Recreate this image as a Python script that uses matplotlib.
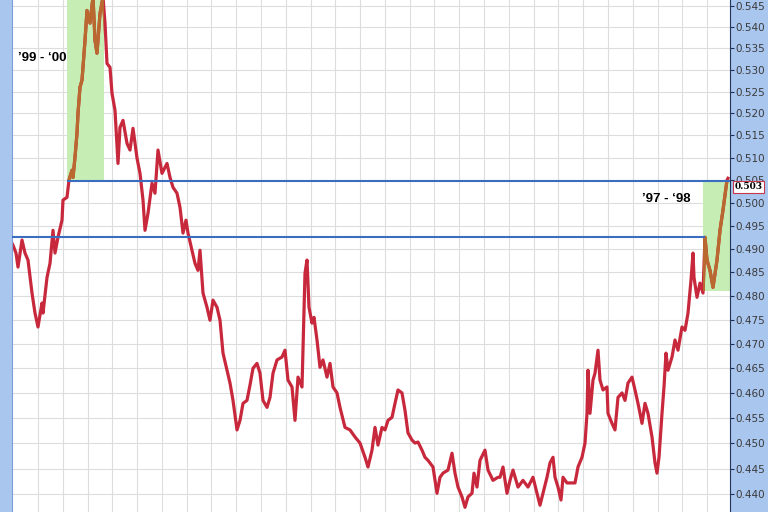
import numpy as np
import matplotlib
matplotlib.use("Agg")
from matplotlib import pyplot as plt
from matplotlib.patches import Rectangle
from matplotlib.transforms import blended_transform_factory

# session number (0 = left edge of chart)
days = [0, 1, 4, 6, 10, 13, 16, 20, 23, 26,
        30, 31, 35, 38, 41, 43, 46, 50, 51, 55,
        57, 60, 61, 63, 65, 66, 68, 70, 71, 73,
        75, 78, 81, 83, 85, 88, 91, 93, 95, 98,
        100, 103, 106, 108, 111, 115, 118, 121, 125, 128,
        131, 133, 136, 140, 143, 146, 150, 155, 158, 161,
        165, 168, 171, 174, 176, 180, 183, 186, 188, 191,
        195, 198, 201, 205, 208, 211, 215, 218, 221, 225,
        228, 231, 235, 238, 241, 245, 248, 251, 255, 258,
        261, 265, 270, 273, 276, 280, 283, 286, 290, 293,
        295, 297, 300, 302, 305, 308, 311, 315, 318, 321,
        325, 328, 333, 338, 343, 348, 353, 356, 360, 363,
        366, 370, 373, 376, 380, 383, 386, 390, 393, 396,
        400, 403, 406, 410, 413, 416, 421, 425, 428, 431,
        436, 440, 443, 446, 450, 453, 456, 460, 462, 465,
        468, 473, 476, 481, 486, 488, 491, 495, 498, 501,
        506, 511, 516, 521, 525, 528, 531, 535, 538, 541,
        543, 546, 549, 551, 555, 560, 563, 566, 570, 573,
        575, 576, 578, 581, 583, 586, 588, 591, 595, 596,
        600, 603, 606, 610, 613, 616, 620, 623, 626, 630,
        633, 636, 640, 643, 645, 647, 650, 652, 654, 656,
        660, 663, 666, 670, 673, 676, 679, 681, 682, 685,
        688, 691, 693, 695, 698, 701, 705, 708, 711, 715,
        716]

ratio = [0.4912, 0.4908, 0.4891, 0.4861, 0.4919, 0.4891, 0.4876, 0.4806, 0.4764, 0.4735,
         0.4785, 0.4764, 0.4839, 0.4869, 0.4940, 0.4891, 0.4925, 0.4962, 0.5006, 0.5012,
         0.5050, 0.5072, 0.5056, 0.5101, 0.5155, 0.5200, 0.5260, 0.5276, 0.5306, 0.5369,
         0.5440, 0.5410, 0.5472, 0.5369, 0.5339, 0.5433, 0.5472, 0.5410, 0.5315, 0.5306,
         0.5246, 0.5207, 0.5087, 0.5168, 0.5184, 0.5132, 0.5117, 0.5166, 0.5099, 0.5065,
         0.5006, 0.4940, 0.4977, 0.5043, 0.5021, 0.5117, 0.5065, 0.5087, 0.5056, 0.5034,
         0.5021, 0.4990,
         0.4934, 0.4962, 0.4934, 0.4897, 0.4869, 0.4854, 0.4897, 0.4806, 0.4776, 0.4749,
         0.4791, 0.4776, 0.4749, 0.4681, 0.4646, 0.4620, 0.4585, 0.4526, 0.4545, 0.4579,
         0.4585, 0.4616, 0.4650, 0.4660, 0.4640, 0.4585, 0.4571, 0.4591, 0.4640, 0.4667,
         0.4673, 0.4687, 0.4626, 0.4612, 0.4545, 0.4632, 0.4612, 0.4848, 0.4876, 0.4776,
         0.4743, 0.4755, 0.4708, 0.4652, 0.4667, 0.4632, 0.4660, 0.4612, 0.4600, 0.4571,
         0.4531, 0.4526, 0.4512, 0.4500, 0.4472, 0.4453, 0.4486, 0.4531, 0.4496, 0.4531,
         0.4526, 0.4545, 0.4551, 0.4579, 0.4606, 0.4600, 0.4565, 0.4520, 0.4506, 0.4500,
         0.4502, 0.4486, 0.4472, 0.4466, 0.4453, 0.4402, 0.4433, 0.4441, 0.4447, 0.4480,
         0.4441, 0.4414, 0.4395, 0.4375, 0.4395, 0.4402, 0.4441, 0.4414, 0.4466, 0.4486,
         0.4447, 0.4427, 0.4433, 0.4433, 0.4453, 0.4402, 0.4427, 0.4447, 0.4414, 0.4427,
         0.4414, 0.4433, 0.4402, 0.4379, 0.4402, 0.4433, 0.4461, 0.4472, 0.4433, 0.4414,
         0.4389, 0.4433, 0.4422, 0.4422, 0.4422, 0.4453, 0.4472, 0.4500, 0.4559, 0.4646,
         0.4559, 0.4626, 0.4640, 0.4687, 0.4626, 0.4606, 0.4612, 0.4559, 0.4539, 0.4526,
         0.4591, 0.4600, 0.4585, 0.4620, 0.4632, 0.4606, 0.4579, 0.4539, 0.4579, 0.4559,
         0.4512, 0.4461, 0.4441, 0.4472, 0.4559, 0.4612, 0.4681, 0.4646, 0.4673, 0.4708,
         0.4687, 0.4735, 0.4728, 0.4764, 0.4833, 0.4891, 0.4839, 0.4797, 0.4827, 0.4806,
         0.4925, 0.4876, 0.4854, 0.4818, 0.4876, 0.4940, 0.4984, 0.5050, 0.5054]

# highlighted periods: (start, end, low, high)
periods = [(55, 92, 0.5049, 0.56), (691, 718, 0.4810, 0.5049)]
period_labels = ["’99 - ‘00", "’97 - ‘98"]
period_label_pos = [(6, 0.5327), (630, 0.5008)]

# reference levels: (value, start, end)
levels = [(0.5049, 55, 718), (0.4925, 0, 693)]
last_value = 0.503

fig = plt.figure(figsize=(7.68, 5.12), dpi=100, facecolor="#a9c6ef")
ax = fig.add_axes([12/768, 0, 718/768, 1])
ax.set_facecolor("white")
ax.set_yscale("log")
ax.set_xlim(0, 718)
ax.set_ylim(0.4366, 0.5465)

yt = np.round(np.arange(0.440, 0.5451, 0.005), 3)
ax.yaxis.set_minor_locator(matplotlib.ticker.NullLocator())
ax.set_yticks(yt)
ax.set_yticklabels([f"{v:.3f}" for v in yt])
ax.yaxis.tick_right()
ax.tick_params(axis="y", direction="out", length=3, width=0.8, color="#22335a",
               labelsize=7.5, labelcolor="#3a3a3a", pad=1)
ax.set_xticks(np.arange(26, 718, 24.78))
ax.tick_params(axis="x", length=0, labelbottom=False)
ax.grid(True, color="#dddddd", linewidth=0.8)
ax.set_axisbelow(True)

for s in ["top", "bottom"]:
    ax.spines[s].set_visible(False)
ax.spines["right"].set_color("#22335a")
ax.spines["left"].set_color("#7d9fd8")

for x0, x1, lo, hi in periods:
    ax.fill_between([x0, x1], lo, hi, color="#c6eeb4", linewidth=0, zorder=1)

ax.plot(days, ratio, color="#c8283c", linewidth=2.3, zorder=2)

# the line is drawn orange inside the highlighted periods
for x0, x1, lo, hi in periods:
    ln, = ax.plot(days, ratio, color="#b9682f", linewidth=2.3, zorder=3)
    clip = Rectangle((x0, lo), x1 - x0, hi - lo, transform=ax.transData)
    ln.set_clip_path(clip)

for v, x0, x1 in levels:
    ax.hlines(v, x0, x1, color="#3a6cc0", linewidth=1.5, zorder=4)

for lab, (x, y) in zip(period_labels, period_label_pos):
    ax.text(x, y, lab, fontsize=9.5, fontweight="bold", family="Liberation Sans",
            va="center", ha="left")

tr = blended_transform_factory(ax.transAxes, ax.transData)
ax.text(1.006, last_value + 0.0005, f"{last_value:.3f}", transform=tr, fontsize=6.5,
        fontweight="bold", family="DejaVu Serif", va="center", ha="left", clip_on=False,
        zorder=5, bbox=dict(boxstyle="square,pad=0.15", facecolor="white",
                            edgecolor="#c8384a", linewidth=0.8))

fig.savefig("out.png")
